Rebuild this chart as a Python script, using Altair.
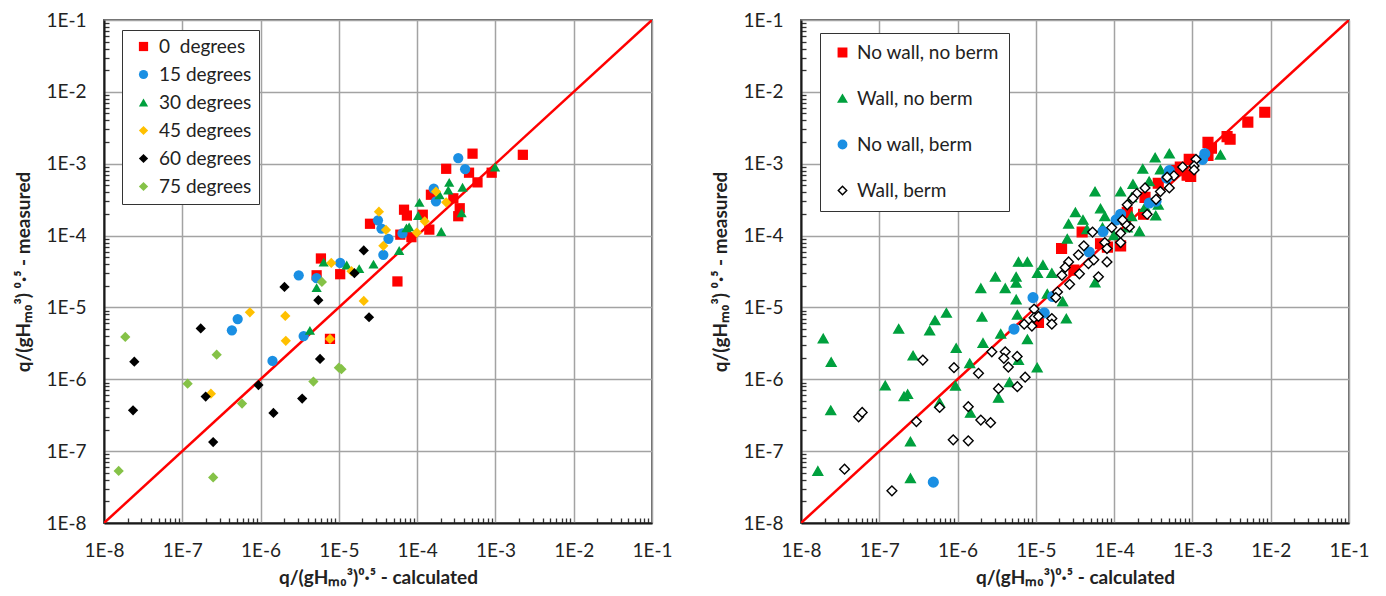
import altair as alt
import pandas as pd

# ---------------- Left panel data (angle of wave attack) ----------------
deg0_x = [2.24e-3, 5.1e-4, 2.35e-4, 4.6e-4, 8.95e-4, 5.9e-4, 2.9e-4, 1.5e-4, 3.5e-4, 3.35e-4,
          6.8e-5, 7.4e-5, 1.18e-4, 8.45e-5, 6.1e-5, 1.43e-4, 2.5e-5, 5.6e-5, 5.9e-6, 5.2e-6,
          1.04e-5, 7.7e-6]
deg0_y = [1.33e-3, 1.38e-3, 8.5e-4, 7.5e-4, 7.5e-4, 5.5e-4, 3.3e-4, 3.7e-4, 2.4e-4, 1.86e-4,
          2.29e-4, 1.9e-4, 1.95e-4, 9.5e-5, 1.03e-4, 1.21e-4, 1.46e-4, 2.3e-5, 4.8e-5, 2.8e-5,
          2.9e-5, 3.65e-6]

deg15_x = [3.35e-4, 4.1e-4, 1.63e-4, 1.74e-4, 3.16e-5, 3.5e-5, 4.3e-5, 3.7e-5, 6.5e-5, 1.04e-5,
           3.07e-6, 5.2e-6, 5.1e-7, 4.3e-7, 3.55e-6, 1.42e-6]
deg15_y = [1.2e-3, 8.4e-4, 4.5e-4, 3.0e-4, 1.63e-4, 1.25e-4, 9.0e-5, 5.4e-5, 1.07e-4, 4.16e-5,
           2.8e-5, 2.56e-5, 6.9e-6, 4.8e-6, 4.0e-6, 1.8e-6]

deg30_x = [9.9e-4, 2.57e-4, 2.5e-4, 3.8e-4, 1.93e-4, 3.7e-4, 1.07e-4, 1.03e-4, 7.9e-5, 2.03e-4,
           5.9e-5, 2.77e-5, 1.82e-5, 1.26e-5, 6.4e-6, 5.2e-6, 4.27e-6, 7.3e-5]
deg30_y = [9.0e-4, 5.5e-4, 4.3e-4, 4.7e-4, 3.7e-4, 2.07e-4, 2.9e-4, 1.9e-4, 1.32e-4, 1.14e-4,
           6.2e-5, 4.0e-5, 3.47e-5, 3.9e-5, 4.27e-5, 1.89e-5, 4.8e-6, 1.28e-4]

deg45_x = [1.74e-4, 2.35e-4, 1.25e-4, 9.9e-5, 3.25e-5, 4.0e-5, 3.7e-5, 8.0e-6, 2.08e-5, 7.3e-7,
           2.07e-6, 2.1e-6, 7.7e-6, 2.32e-7, 1.45e-5]
deg45_y = [4.1e-4, 2.9e-4, 1.58e-4, 1.1e-4, 2.15e-4, 1.2e-4, 7.2e-5, 4.16e-5, 1.23e-5, 8.55e-6,
           7.6e-6, 3.43e-6, 3.65e-6, 6.3e-7, 3.2e-5]

deg60_x = [2.08e-5, 1.58e-5, 2.02e-6, 5.47e-6, 2.43e-5, 1.72e-7, 2.44e-8, 5.75e-6, 9.4e-7, 1.99e-7,
           3.4e-6, 1.46e-6, 2.35e-8, 2.48e-7]
deg60_y = [6.2e-5, 3.0e-5, 1.93e-5, 1.26e-5, 7.3e-6, 5.1e-6, 1.76e-6, 1.92e-6, 8.3e-7, 5.75e-7,
           5.4e-7, 3.4e-7, 3.7e-7, 1.34e-7]

deg75_x = [6.07e-6, 1.87e-8, 2.75e-7, 1.0e-5, 1.08e-5, 1.17e-7, 4.73e-6, 5.8e-7, 1.54e-8, 2.48e-7]
deg75_y = [2.26e-5, 3.88e-6, 2.2e-6, 1.45e-6, 1.38e-6, 8.7e-7, 9.3e-7, 4.6e-7, 5.3e-8, 4.3e-8]

# ---------------- Right panel data (wall / berm configuration) ----------------
nwnb_x = [8.4e-3, 5.1e-3, 3.03e-3, 2.77e-3, 1.58e-3, 1.75e-3, 1.58e-3, 9.1e-4, 8.55e-4, 7.0e-4,
          9.5e-4, 6.2e-4, 3.66e-4, 2.48e-4, 2.38e-4, 1.47e-4, 1.21e-4, 6.7e-5, 3.9e-5, 2.13e-5,
          3.06e-5, 1.08e-5, 8.2e-5]
nwnb_y = [5.2e-3, 3.8e-3, 2.19e-3, 2.38e-3, 1.98e-3, 1.65e-3, 1.3e-3, 1.15e-3, 6.9e-4, 9.0e-4,
          6.65e-4, 8.0e-4, 5.35e-4, 3.4e-4, 1.98e-4, 2.1e-4, 7.2e-5, 7.7e-5, 1.12e-4, 6.6e-5,
          3.3e-5, 6.2e-6, 6.9e-5]

wnb_x = [2.28e-3, 5.07e-4, 3.34e-4, 2.32e-4, 3.9e-4, 1.74e-4, 2.8e-4, 1.21e-4, 1.67e-4, 5.7e-5,
         2.48e-4, 3.66e-4, 3.4e-4, 1.67e-4, 2.1e-4, 6.7e-5, 3.2e-5, 2.62e-5, 2.52e-5, 4.0e-5,
         7.6e-5, 7.1e-5, 9.9e-5, 1.47e-4, 4.5e-5, 6.0e-6, 7.8e-6, 1.23e-5, 1.05e-5, 1.6e-5,
         5.6e-6, 3.04e-6, 5.6e-6, 1.98e-6, 4.06e-6, 5.6e-6, 1.4e-5, 2.2e-5, 5.7e-5, 5.8e-6,
         2.45e-5, 2.05e-6, 7.2e-7, 5.15e-7, 4.4e-7, 1.77e-7, 3.56e-6, 2.11e-6, 7.8e-6, 9.6e-7,
         2.7e-7, 6.0e-6, 1.43e-6, 1.04e-5, 1.92e-8, 2.43e-8, 1.19e-7, 2.07e-7, 2.3e-7, 9.4e-7,
         4.6e-6, 3.33e-6, 5.9e-7, 1.46e-6, 2.4e-8, 2.5e-7, 2.5e-7, 1.64e-8]
wnb_y = [1.33e-3, 1.38e-3, 1.22e-3, 8.5e-4, 8.3e-4, 5.2e-4, 5.7e-4, 4.1e-4, 3.4e-4, 4.1e-4,
         2.5e-4, 2.68e-4, 1.9e-4, 1.86e-4, 1.15e-4, 2.37e-4, 2.1e-4, 1.46e-4, 9.0e-5, 1.65e-4,
         1.86e-4, 1.29e-4, 1.01e-4, 1.29e-4, 1.22e-4, 4.3e-5, 4.3e-5, 3.9e-5, 3.0e-5, 3.0e-5,
         2.67e-5, 2.67e-5, 2.2e-5, 1.85e-5, 1.85e-5, 1.29e-5, 1.55e-5, 1.21e-5, 2.22e-5, 7.9e-6,
         7.0e-6, 7.4e-6, 8.4e-6, 6.6e-6, 4.75e-6, 5.05e-6, 4.3e-6, 3.2e-6, 3.6e-6, 2.72e-6,
         2.14e-6, 1.85e-6, 1.67e-6, 1.45e-6, 3.7e-6, 1.74e-6, 8.2e-7, 5.8e-7, 6.2e-7, 8.1e-7,
         9.1e-7, 5.5e-7, 4.75e-7, 3.4e-7, 3.7e-7, 1.36e-7, 4.2e-8, 5.3e-8]

nwb_x = [1.44e-3, 1.35e-3, 5.07e-4, 4.7e-4, 3.43e-4, 2.82e-4, 1.21e-4, 1.06e-4, 7.2e-5, 4.8e-5,
         1.64e-5, 9.2e-6, 1.28e-5, 5.26e-6, 4.9e-7]
nwb_y = [1.38e-3, 1.15e-3, 8.0e-4, 6.3e-4, 3.0e-4, 2.84e-4, 1.98e-4, 1.65e-4, 1.14e-4, 5.9e-5,
         1.42e-5, 1.37e-5, 8.4e-6, 5.0e-6, 3.7e-8]

wb_x = [1.11e-3, 1.05e-3, 1.05e-3, 7.5e-4, 5.8e-4, 4.75e-4, 5.07e-4, 3.9e-4, 3.43e-4, 2.48e-4,
        1.95e-4, 1.74e-4, 1.47e-4, 2.64e-4, 1.57e-4, 1.4e-4, 1.28e-4, 9.3e-5, 1.21e-4, 1.21e-4,
        7.6e-5, 8.1e-5, 5.3e-5, 4.1e-5, 3.5e-5, 3.6e-5, 2.62e-5, 2.37e-5, 2.15e-5, 2.7e-5,
        4.7e-5, 5.5e-5, 8.1e-5, 6.3e-5, 1.89e-5, 1.8e-5, 9.5e-6, 9.5e-6, 8.9e-6, 7.1e-6,
        1.6e-5, 1.6e-5, 1.08e-5, 2.74e-6, 4.06e-6, 3.9e-6, 5.77e-6, 4.45e-6, 9.0e-7, 1.85e-6,
        3.6e-7, 7.3e-6, 3.33e-6, 5.8e-6, 5.9e-7, 1.37e-6, 5.45e-8, 6.05e-8, 2.98e-7, 1.98e-6,
        2.64e-6, 8.8e-7, 1.37e-6, 3.6e-8, 1.45e-7]
wb_y = [1.15e-3, 9.3e-4, 8.2e-4, 9.0e-4, 6.8e-4, 6.5e-4, 4.6e-4, 4.1e-4, 3.2e-4, 4.6e-4,
        3.85e-4, 3.3e-4, 2.68e-4, 1.98e-4, 1.32e-4, 1.45e-4, 1.65e-4, 1.29e-4, 1.08e-4, 8.0e-5,
        8.0e-5, 6.6e-5, 1.12e-4, 7.2e-5, 5.4e-5, 2.94e-5, 4.3e-5, 3.6e-5, 2.8e-5, 2.1e-5,
        4.07e-5, 4.6e-5, 4.3e-5, 2.67e-5, 1.64e-5, 1.37e-5, 9.5e-6, 7.2e-6, 5.5e-6, 5.85e-6,
        7.0e-6, 5.85e-6, 7.5e-6, 2.41e-6, 2.41e-6, 1.96e-6, 2.08e-6, 1.48e-6, 1.45e-6, 1.21e-6,
        1.85e-6, 1.07e-6, 7.4e-7, 7.9e-7, 4.05e-7, 4.15e-7, 3.0e-7, 3.46e-7, 2.58e-7, 2.71e-7,
        2.49e-7, 1.44e-7, 1.39e-7, 5.6e-8, 2.8e-8]

# ---------------- Categories, styles and axis values ----------------
LEFT_LABELS = ["0\u00a0 degrees", "15 degrees", "30 degrees", "45 degrees", "60 degrees", "75 degrees"]
LEFT_COLORS = ["#FF0000", "#1A8FE3", "#00A03E", "#FFC000", "#000000", "#85C247"]
LEFT_SHAPES = ["square", "circle", "triangle-up", "diamond", "diamond", "diamond"]

RIGHT_LABELS = ["No wall, no berm", "Wall, no berm", "No wall, berm", "Wall, berm"]
RIGHT_FILLS = ["#FF0000", "#00A03E", "#1A8FE3", "#FFFFFF"]
RIGHT_STROKES = ["#FF0000", "#00A03E", "#1A8FE3", "#000000"]
RIGHT_SHAPES = ["square", "triangle-up", "circle", "diamond"]

DOMAIN = [1e-8, 1e-1]
DECADES = [1e-8, 1e-7, 1e-6, 1e-5, 1e-4, 1e-3, 1e-2, 1e-1]
MINOR = [m * d for d in DECADES[:-1] for m in range(2, 10)]
ONE_TO_ONE = [1e-8, 1e-1]

X_TITLE = "q/(gH\u2098\u2080\u00b3)\u2070\u00b7\u2075 - calculated"
Y_TITLE = "q/(gH\u2098\u2080\u00b3) \u2070\u00b7\u2075 - measured"

W, H = 548, 503
FONT = "Lato"


def frame(groups):
    rows = []
    for label, xs, ys in groups:
        assert len(xs) == len(ys), label
        rows += [{"series": label, "x": a, "y": b} for a, b in zip(xs, ys)]
    return pd.DataFrame(rows)


left_df = frame([
    (LEFT_LABELS[0], deg0_x, deg0_y), (LEFT_LABELS[1], deg15_x, deg15_y),
    (LEFT_LABELS[2], deg30_x, deg30_y), (LEFT_LABELS[3], deg45_x, deg45_y),
    (LEFT_LABELS[4], deg60_x, deg60_y), (LEFT_LABELS[5], deg75_x, deg75_y),
])
right_df = frame([
    (RIGHT_LABELS[0], nwnb_x, nwnb_y), (RIGHT_LABELS[1], wnb_x, wnb_y),
    (RIGHT_LABELS[2], nwb_x, nwb_y), (RIGHT_LABELS[3], wb_x, wb_y),
])
line_df = pd.DataFrame({"v": ONE_TO_ONE})

LABEL_EXPR = "'1E' + round(log(datum.value) / LN10)"


def scale():
    return alt.Scale(type="log", domain=DOMAIN, nice=False)


def major_axis(orient, title, title_pad):
    return alt.Axis(orient=orient, values=DECADES, labelExpr=LABEL_EXPR, grid=True,
                    gridColor="#A3A3A3", gridWidth=1.5, ticks=False, tickSize=0,
                    domainColor="#1a1a1a", domainWidth=2, labelFont=FONT, labelFontSize=19,
                    labelColor="#222222", labelPadding=18, title=title, titleFont=FONT,
                    titleFontSize=19, titleFontWeight="bold", titleColor="#222222",
                    titlePadding=title_pad, labelFlush=False)


def minor_axis(orient, offset):
    return alt.Axis(orient=orient, offset=offset, values=MINOR, labels=False, grid=False,
                    domain=False, ticks=True, tickSize=5, tickColor="#333333", tickWidth=1.3,
                    title=None, minExtent=0)


def panel(points):
    line = alt.Chart(line_df).mark_line(color="#FF0000", strokeWidth=2.5, clip=True).encode(
        x=alt.X("v:Q", scale=scale(), axis=minor_axis("top", -H)),
        y=alt.Y("v:Q", scale=scale(), axis=minor_axis("right", -W)),
    )
    return alt.layer(line, points).resolve_axis(x="independent", y="independent").properties(
        width=W, height=H)


X_ENC = alt.X("x:Q", scale=scale(), axis=major_axis("bottom", X_TITLE, 8))
Y_ENC = alt.Y("y:Q", scale=scale(), axis=major_axis("left", Y_TITLE, 12))

left_legend = dict(title=None, orient="none", legendX=18, legendY=10, strokeColor="#333333",
                   fillColor="white", padding=7, labelFont=FONT, labelFontSize=19,
                   labelColor="#222222", symbolSize=85, rowPadding=8, symbolOffset=5,
                   labelOffset=6, symbolStrokeWidth=0, labelLimit=300)

left_points = alt.Chart(left_df).mark_point(filled=True, size=105, opacity=1).encode(
    x=X_ENC, y=Y_ENC,
    color=alt.Color("series:N", sort=LEFT_LABELS,
                    scale=alt.Scale(domain=LEFT_LABELS, range=LEFT_COLORS),
                    legend=alt.Legend(**left_legend)),
    shape=alt.Shape("series:N", sort=LEFT_LABELS,
                    scale=alt.Scale(domain=LEFT_LABELS, range=LEFT_SHAPES),
                    legend=alt.Legend(**left_legend)),
)

right_legend = dict(title=None, orient="none", legendX=19, legendY=13, strokeColor="#333333",
                    fillColor="white", padding=10, labelFont=FONT, labelFontSize=19,
                    labelColor="#222222", symbolSize=70, rowPadding=26, symbolOffset=3,
                    labelOffset=5, symbolStrokeWidth=1.5, labelLimit=300)

right_points = alt.Chart(right_df).mark_point(size=95, opacity=1, fillOpacity=1,
                                              strokeWidth=1.4).encode(
    x=X_ENC, y=Y_ENC,
    fill=alt.Fill("series:N", sort=RIGHT_LABELS,
                  scale=alt.Scale(domain=RIGHT_LABELS, range=RIGHT_FILLS),
                  legend=alt.Legend(**right_legend)),
    stroke=alt.Stroke("series:N", sort=RIGHT_LABELS,
                      scale=alt.Scale(domain=RIGHT_LABELS, range=RIGHT_STROKES),
                      legend=alt.Legend(**right_legend)),
    shape=alt.Shape("series:N", sort=RIGHT_LABELS,
                    scale=alt.Scale(domain=RIGHT_LABELS, range=RIGHT_SHAPES),
                    legend=alt.Legend(**right_legend)),
)

chart = alt.hconcat(panel(left_points), panel(right_points), spacing=36).resolve_scale(
    color="independent", shape="independent", fill="independent", stroke="independent"
).properties(
    padding={"left": 5, "top": 2, "right": 0, "bottom": 0}, background="white"
).configure_view(stroke="#666666", strokeWidth=2)

chart.save("out.html", embed_options={"renderer": "svg", "actions": False})
